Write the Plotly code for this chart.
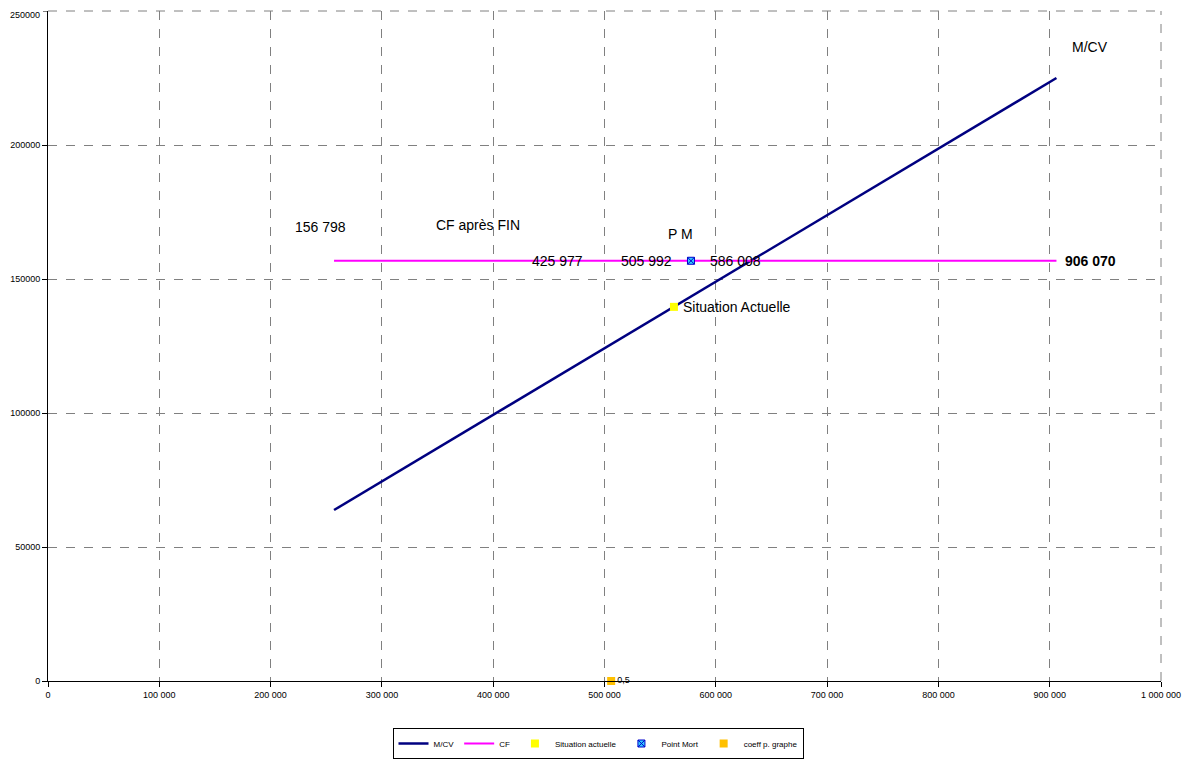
import plotly.graph_objects as go

# Data
mcv_x = [257000, 906070]
mcv_y = [63800, 225000]
cf_x = [257000, 906070]
cf_y = [156798, 156798]
situation_x = [562400]
situation_y = [139600]
pm_x = [577700]
pm_y = [156798]
coeff_x = [505992]
coeff_y = [0]

x_ticks = [0, 100000, 200000, 300000, 400000, 500000, 600000, 700000, 800000, 900000, 1000000]
x_ticklabels = ["0", "100 000", "200 000", "300 000", "400 000", "500 000", "600 000",
                "700 000", "800 000", "900 000", "1 000 000"]
y_ticks = [0, 50000, 100000, 150000, 200000]
y_ticklabels = ["0", "50000", "100000", "150000", "200000"]
y_top_tick = 250000
y_top_label = "250000"

# annotations: (text, x, y, anchor, bold)
labels = [
    ("156 798", 245000, 169400, "center", False),
    ("CF après FIN", 386000, 170000, "center", False),
    ("P M", 568700, 166800, "center", False),
    ("425 977", 458000, 156798, "center", False),
    ("505 992", 538000, 156798, "center", False),
    ("586 008", 618000, 156798, "center", False),
    ("906 070", 912000, 156798, "left", True),
    ("Situation Actuelle", 568500, 139600, "left", False),
    ("M/CV", 936000, 236600, "center", False),
]

FONT = "Arial, Liberation Sans, sans-serif"

# page body has an 8px margin; figure is sized to fit the 1192x762 window
W, H = 1184, 754

fig = go.Figure()
fig.add_trace(go.Scatter(x=mcv_x, y=mcv_y, mode="lines", name="M/CV",
                         line=dict(color="#000080", width=2.5)))
fig.add_trace(go.Scatter(x=cf_x, y=cf_y, mode="lines", name="CF",
                         line=dict(color="#FF00FF", width=2)))
fig.add_trace(go.Scatter(x=situation_x, y=situation_y, mode="markers", name="Situation actuelle",
                         marker=dict(symbol="square", color="#FFFF00", size=8)))
fig.add_trace(go.Scatter(x=pm_x, y=pm_y, mode="markers", name="Point Mort",
                         marker=dict(symbol="square-x", color="#33CCFF", size=7,
                                     line=dict(color="#0000CC", width=1))))
fig.add_trace(go.Scatter(x=coeff_x, y=coeff_y, mode="markers+text", name="coeff p. graphe",
                         text=["0,5"], textposition="middle right",
                         textfont=dict(size=9, color="#000000", family=FONT),
                         marker=dict(symbol="square", color="#FFC000", size=8),
                         cliponaxis=False))

for text, x, y, anchor, bold in labels:
    fig.add_annotation(x=x, y=y, text=f"<b>{text}</b>" if bold else text, showarrow=False,
                       xanchor=anchor, yanchor="middle",
                       font=dict(size=14, color="#000000", family=FONT))

# top y tick label (drawn as annotation so it is not clipped at the page edge)
fig.add_annotation(xref="paper", x=0, y=y_top_tick, text=y_top_label, showarrow=False,
                   xanchor="right", yanchor="top", xshift=-6, yshift=3,
                   font=dict(size=9, color="#000000", family=FONT))
fig.add_shape(type="line", xref="paper", x0=-0.0045, x1=0, y0=y_top_tick, y1=y_top_tick,
              line=dict(color="#000000", width=1))

# dashed border at top and right (grid lines at range ends)
fig.add_shape(type="line", xref="paper", yref="paper", x0=0, x1=1, y0=1, y1=1,
              line=dict(color="#808080", width=1, dash="dash"))
fig.add_shape(type="line", xref="paper", yref="paper", x0=1, x1=1, y0=0, y1=1,
              line=dict(color="#808080", width=1, dash="dash"))

fig.update_layout(
    width=W, height=H,
    margin=dict(l=40, r=31, t=3, b=81, autoexpand=False),
    paper_bgcolor="white", plot_bgcolor="white",
    font=dict(family=FONT, color="#000000"),
    showlegend=True,
    legend=dict(orientation="h", x=(598 - 8) / W, xanchor="center", xref="container",
                y=3 / H, yanchor="bottom", yref="container",
                bordercolor="#000000", borderwidth=1, font=dict(size=8, family=FONT),
                itemwidth=30, tracegroupgap=0),
)
fig.update_xaxes(range=[0, 1000000], tickvals=x_ticks, ticktext=x_ticklabels,
                 showgrid=True, gridcolor="#808080", griddash="dash", gridwidth=1,
                 showline=True, linecolor="#000000", linewidth=1,
                 ticks="outside", ticklen=5, tickcolor="#000000", automargin=False,
                 tickfont=dict(size=9, family=FONT), zeroline=False, mirror=False)
fig.update_yaxes(range=[0, 250000], tickvals=y_ticks, ticktext=y_ticklabels,
                 showgrid=True, gridcolor="#808080", griddash="dash", gridwidth=1,
                 showline=True, linecolor="#000000", linewidth=1,
                 ticks="outside", ticklen=5, tickcolor="#000000", automargin=False,
                 tickfont=dict(size=9, family=FONT), zeroline=False)

fig.write_html("out.html")
